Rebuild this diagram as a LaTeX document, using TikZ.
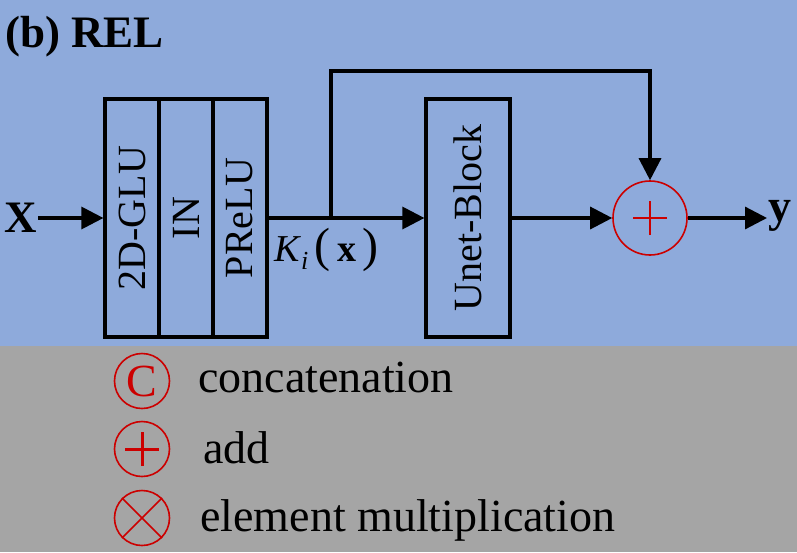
\documentclass[tikz,border=0pt]{standalone}
\usepackage{fontspec}
\setmainfont{Liberation Serif}
\usepackage{xcolor}
\usetikzlibrary{positioning,arrows.meta}
\definecolor{relblue}{RGB}{142,170,219}
\definecolor{leggray}{RGB}{165,165,165}
\definecolor{symred}{RGB}{204,0,0}
\tikzset{
  layer/.style={draw,line width=3.2pt,minimum width=54pt,minimum height=238pt,inner sep=0pt},
  wire/.style={line width=3.2pt},
  arr/.style={wire,-{Triangle[length=22pt,width=22pt]}},
  sym/.style={draw=symred,circle,line width=1.6pt,inner sep=0pt,text=symred},
  pluspic/.style={path picture={
      \draw[symred,line width=#1]
        ([xshift=-17pt]path picture bounding box.center) -- ([xshift=17pt]path picture bounding box.center)
        ([yshift=-17pt]path picture bounding box.center) -- ([yshift=17pt]path picture bounding box.center);}},
  leg/.style={anchor=base west,inner sep=0pt,font=\fontsize{46}{50}\selectfont}
}

\begin{document}
\begin{tikzpicture}[x=1pt,y=-1pt,font=\fontsize{40}{44}\selectfont]
  \useasboundingbox (0,0) rectangle (797,552);
  \fill[relblue] (0,0) rectangle (797,346);
  \fill[leggray] (0,346) rectangle (797,552);
  \node[anchor=base west,font=\fontsize{45}{48}\selectfont\bfseries,inner sep=0pt] (title) at (5,47) {(b) REL};
  % first block: three layers side by side
  \foreach \nm/\cx/\lab in {glu/132/2D-GLU,inorm/186/IN,prelu/240/PReLU} {
    \node[layer] (\nm) at (\cx,218) {\rotatebox{90}{\lab}};
  }
  \node[layer,minimum width=84pt] (unet) at (468,218) {\rotatebox{90}{Unet-Block}};
  \node[sym,minimum size=74pt,pluspic=2pt] (add) at (650,218) {};
  \node[font=\fontsize{45}{48}\selectfont\bfseries,inner sep=1pt] (xin) at (21,218) {X};
  \node[font=\fontsize{46}{48}\selectfont\bfseries,inner sep=1pt,anchor=west] (yout) at (767,216) {y};
  \node[anchor=west,inner sep=0pt,font=\fontsize{38}{40}\selectfont] (kix) at (274,250)
    {\textit{K}\raisebox{-8pt}{\fontsize{26}{26}\selectfont\textit{i}}\,{\fontsize{48}{48}\selectfont(}\,\textbf{x}\,{\fontsize{48}{48}\selectfont)}};
  \coordinate (br) at (331,218);
  \coordinate (up) at (331,71);
  \draw[arr] (xin) -- (glu.west);
  \draw[arr] (prelu.east) -- (unet.west);
  \draw[arr] (unet.east) -- (add.west);
  \draw[arr] (add.east) -- (add.east -| yout.west);
  \draw[arr] (br) -- (up) -| (add.north);
  % legend
  \node[sym,minimum size=55pt,font=\fontsize{46}{46}\selectfont] (cat) at (142,381) {C};
  \node[sym,minimum size=55pt,pluspic=3pt] (plus) at (142,449) {};
  \node[sym,minimum size=55pt] (mul) at (142,518) {};
  \draw[symred,line width=1.6pt] (mul.45) -- (mul.225) (mul.135) -- (mul.315);
  \node[leg] (catlab) at (198,392) {concatenation};
  \node[leg] (addlab) at (203,463) {add};
  \node[leg] (mullab) at (200,531) {element multiplication};
\end{tikzpicture}
\end{document}
